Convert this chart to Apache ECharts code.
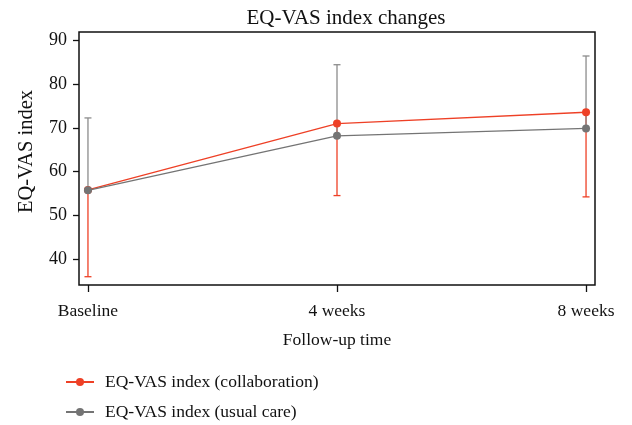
<!DOCTYPE html>
<html>
<head>
  <meta charset="UTF-8">
  <title>EQ-VAS index changes</title>
  <style>
    html, body { margin: 0; padding: 0; background: #fff; }
    #chart { width: 632px; height: 425px; }
  </style>
  <script type="text/javascript" src="https://cdn.jsdelivr.net/npm/echarts@6/dist/echarts.min.js"></script>
</head>
<body>
  <div id="chart"></div>
  <script>
    var categories = ['Baseline', '4 weeks', '8 weeks'];
    var yTicks = [40, 50, 60, 70, 80, 90];

    // collaboration: mean + lower error bar
    var collabMean = [55.8, 71.0, 73.6];
    var collabLower = [35.9, 54.5, 54.2];
    // usual care: mean + upper error bar
    var usualMean = [55.7, 68.2, 69.9];
    var usualUpper = [72.3, 84.5, 86.5];

    var RED = '#ee4026';
    var GRAY = '#747474';
    var FONT = 'Liberation Serif';

    var myChart = echarts.init(document.getElementById('chart'));

    function points(vals) {
      return vals.map(function (v, i) { return [i, v]; });
    }
    function bars(mean, end) {
      return mean.map(function (v, i) { return [i, v, end[i]]; });
    }

    // vertical error bar with a cap at the far end
    function errorBar(color) {
      return function (params, api) {
        var x = api.value(0);
        var a = api.coord([x, api.value(1)]);
        var b = api.coord([x, api.value(2)]);
        var style = { stroke: color, lineWidth: 1.3 };
        return {
          type: 'group',
          children: [
            { type: 'line', shape: { x1: a[0], y1: a[1], x2: b[0], y2: b[1] }, style: style },
            { type: 'line', shape: { x1: b[0] - 3.5, y1: b[1], x2: b[0] + 3.5, y2: b[1] }, style: style }
          ]
        };
      };
    }

    var option = {
      backgroundColor: '#fff',
      animation: false,
      title: {
        text: 'EQ-VAS index changes',
        left: 341,
        textAlign: 'center',
        top: 3,
        textStyle: { fontFamily: FONT, fontSize: 21, fontWeight: 'normal', color: '#111' }
      },
      legend: {
        orient: 'vertical',
        left: 65,
        top: 373,
        padding: 0,
        itemWidth: 28,
        itemHeight: 10,
        itemGap: 12,
        data: ['EQ-VAS index (collaboration)', 'EQ-VAS index (usual care)'],
        textStyle: { fontFamily: FONT, fontSize: 17.5, color: '#111', padding: [0, 0, 0, 6] }
      },
      grid: {
        left: 79, right: 37, top: 32, bottom: 140,
        show: true,
        borderColor: '#111',
        borderWidth: 1.5,
        backgroundColor: 'transparent'
      },
      xAxis: {
        type: 'value',
        min: -0.036,
        max: 2.036,
        name: 'Follow-up time',
        nameLocation: 'middle',
        nameGap: 46,
        nameTextStyle: { fontFamily: FONT, fontSize: 17.5, color: '#111' },
        axisLine: { show: false, onZero: false },
        splitLine: { show: false },
        axisTick: { show: true, inside: false, length: 7, customValues: [0, 1, 2], lineStyle: { color: '#111', width: 1.3 } },
        axisLabel: {
          customValues: [0, 1, 2],
          margin: 17,
          fontFamily: FONT, fontSize: 17.5, color: '#111',
          formatter: function (v) { return categories[Math.round(v)]; }
        }
      },
      yAxis: {
        type: 'value',
        min: 34,
        max: 92,
        name: 'EQ-VAS index',
        nameLocation: 'middle',
        nameGap: 42,
        nameTextStyle: { fontFamily: FONT, fontSize: 20.5, color: '#111', padding: [0, 0, 0, 14] },
        axisLine: { show: false, onZero: false },
        splitLine: { show: false },
        axisTick: { show: true, inside: false, length: 6, customValues: yTicks, lineStyle: { color: '#111', width: 1.3 } },
        axisLabel: { customValues: yTicks, margin: 12, fontFamily: FONT, fontSize: 18, color: '#111' }
      },
      series: [
        {
          name: 'EQ-VAS index (collaboration)',
          type: 'line',
          data: points(collabMean),
          symbol: 'circle',
          symbolSize: 8,
          color: RED,
          lineStyle: { color: RED, width: 1.3 },
          itemStyle: { color: RED },
          z: 2
        },
        {
          name: 'EQ-VAS index (usual care)',
          type: 'line',
          data: points(usualMean),
          symbol: 'circle',
          symbolSize: 8,
          color: GRAY,
          lineStyle: { color: GRAY, width: 1.3 },
          itemStyle: { color: GRAY },
          z: 3
        },
        {
          name: 'collaboration error',
          type: 'custom',
          renderItem: errorBar(RED),
          data: bars(collabMean, collabLower),
          z: 1
        },
        {
          name: 'usual care error',
          type: 'custom',
          renderItem: errorBar('#8c8c8c'),
          data: bars(usualMean, usualUpper),
          z: 1
        }
      ]
    };

    myChart.setOption(option);
  </script>
</body>
</html>
